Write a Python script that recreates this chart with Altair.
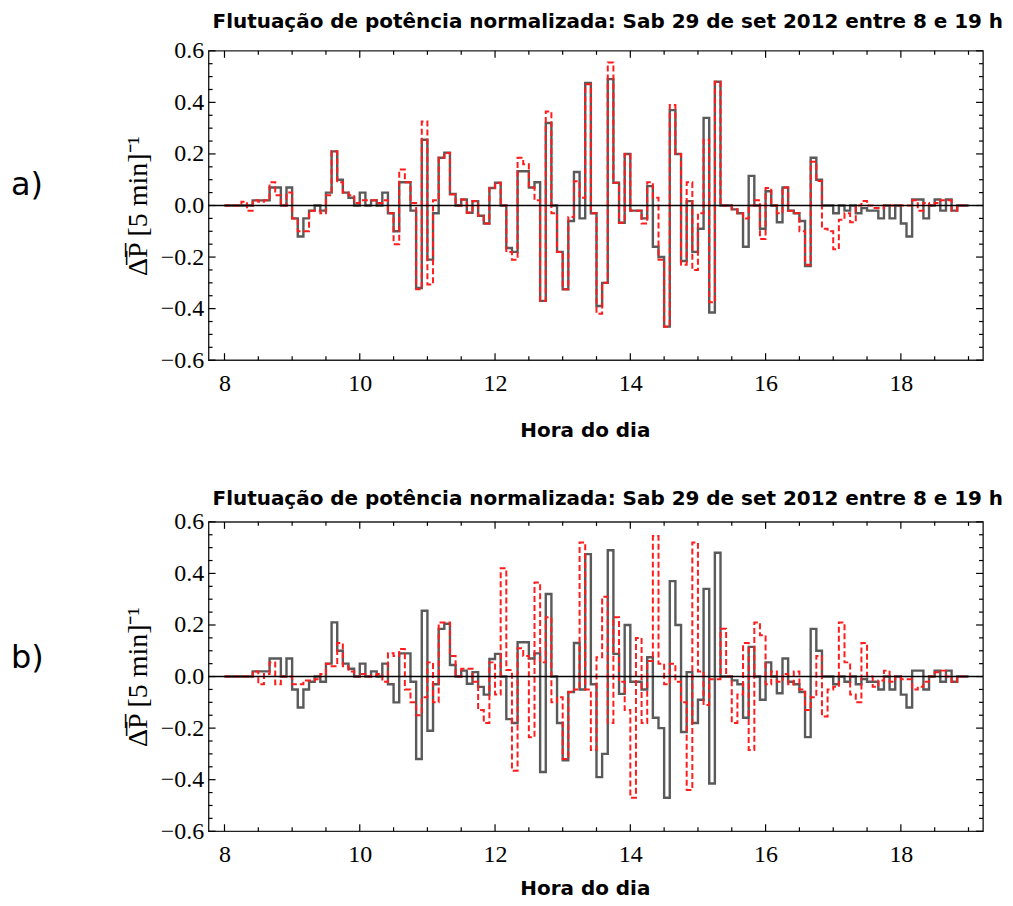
import altair as alt
import pandas as pd

# ---- data: 5-minute steps from 8:00 to 19:00 (132 steps) ----
cinza = [0, 0, 0, 0, 0, 0.02, 0.02, 0.02, 0.07, 0.07,
         0, 0.07, -0.05, -0.12, -0.05, -0.02, 0, -0.02, 0.05, 0.21,
         0.1, 0.05, 0.03, 0, 0.05, 0, 0.02, 0, 0.05, -0.03,
         -0.1, 0.09, 0.09, -0.02, -0.32, 0.255, -0.21, -0.03, 0.185, 0.205,
         0.045, 0, 0.023, -0.028, 0.017, -0.04, -0.07, 0.068, 0.088, 0,
         -0.165, -0.18, 0.133, 0.133, 0.07, 0.09, -0.37, 0.32, 0, -0.18,
         -0.325, -0.06, 0.13, -0.05, 0.475, -0.03, -0.39, -0.3, 0.49, 0.088,
         -0.067, 0.2, -0.02, -0.02, -0.05, 0.075, -0.16, -0.2, -0.47, 0.37,
         0.2, -0.215, 0.017, -0.18, -0.09, 0.34, -0.415, 0.48, 0, 0,
         -0.015, -0.03, -0.16, 0.115, 0, -0.09, 0.055, 0, -0.065, 0.07,
         -0.02, -0.03, -0.06, -0.235, 0.185, 0.1, 0, 0, -0.03, 0,
         -0.02, 0, -0.03, -0.01, -0.02, -0.02, -0.05, 0, -0.05, 0,
         -0.07, -0.12, 0.023, 0.023, -0.05, 0, 0.023, -0.02, 0.023, -0.02,
         0, 0]

vermelho_a = [0, 0, 0, 0.015, -0.02, 0.02, 0.015, 0.02, 0.09, 0.04,
              0, 0.05, -0.05, -0.1, -0.1, -0.02, -0.02, -0.03, 0.04, 0.21,
              0.09, 0.05, 0.04, 0.01, 0.02, 0.02, 0.02, 0.01, 0.02, -0.03,
              -0.15, 0.14, 0.09, 0.01, -0.325, 0.326, -0.306, 0.02, 0.185, 0.204,
              0.043, 0, 0.023, -0.028, 0.017, -0.04, -0.07, 0.068, 0.088, 0,
              -0.18, -0.21, 0.185, 0.16, 0.07, 0.02, -0.37, 0.365, -0.03, -0.18,
              -0.325, -0.045, 0.094, 0.03, 0.47, -0.03, -0.42, -0.3, 0.555, 0.088,
              -0.067, 0.2, -0.02, -0.02, -0.07, 0.09, 0.03, -0.21, -0.47, 0.39,
              0.2, -0.23, 0.09, -0.25, -0.03, 0.255, -0.375, 0.48, 0, 0,
              -0.015, -0.03, -0.05, 0.0, 0.02, -0.13, 0.068, 0, -0.03, 0.07,
              -0.02, -0.03, -0.1, -0.23, 0.17, 0.095, -0.09, -0.1, -0.17, -0.055,
              -0.03, -0.065, 0.0, 0.017, 0, -0.01, -0.01, 0, 0, 0,
              0, 0, 0.02, -0.02, 0.01, 0, 0.01, 0.02, 0.02, -0.02,
              0, 0]

vermelho_b = [0, 0, 0, 0, 0, 0.02, -0.03, 0.01, 0.055, -0.03,
              0, 0, -0.03, -0.03, -0.015, -0.015, -0.01, 0.01, 0.05, 0.04,
              0.13, 0.04, 0.02, 0, 0.01, 0, 0.005, 0.01, -0.02, 0.09,
              0.08, 0.107, -0.05, -0.1, -0.15, -0.08, 0.055, -0.1, 0.21, 0.21,
              0.08, 0, 0.03, 0.03, -0.02, -0.13, -0.18, 0.055, -0.07, 0.42,
              0.025, -0.365, 0.11, 0.08, -0.235, 0.365, 0.055, 0.23, -0.1, -0.08,
              -0.32, -0.06, -0.05, 0.52, -0.05, -0.285, 0.075, 0.31, -0.18, 0.23,
              -0.02, -0.13, -0.47, 0.15, -0.18, 0.06, 0.545, 0.05, -0.03, 0.05,
              -0.02, -0.1, -0.44, 0.52, 0.02, -0.11, -0.01, -0.01, 0.185, 0,
              -0.18, -0.07, 0.13, -0.285, 0.21, 0.16, -0.03, 0.02, -0.02, 0.01,
              -0.03, 0.02, -0.05, -0.13, -0.08, 0.08, -0.155, -0.05, -0.04, 0.21,
              0.055, -0.07, -0.1, 0.13, 0, -0.04, -0.015, 0.023, -0.02, 0,
              -0.01, -0.01, -0.05, -0.04, -0.02, 0, 0.017, 0.023, 0, -0.02,
              0, 0]

x_rotulos = [8, 10, 12, 14, 16, 18]
x_ticks_menores = [8.5, 9, 9.5, 10.5, 11, 11.5, 12.5, 13, 13.5, 14.5, 15, 15.5,
                   16.5, 17, 17.5, 18.5, 19]
y_rotulos = [-0.6, -0.4, -0.2, 0.0, 0.2, 0.4, 0.6]
y_ticks_menores = [-0.55, -0.5, -0.45, -0.35, -0.3, -0.25, -0.15, -0.1, -0.05,
                   0.05, 0.1, 0.15, 0.25, 0.3, 0.35, 0.45, 0.5, 0.55]

titulo = "Flutuação de potência normalizada: Sab 29 de set 2012 entre 8 e 19 h"
titulo_y = "\u0394\u0305P\u0305 [5 min]\u207b\u00b9"

W = 776
x_scale = alt.Scale(domain=[7.765, 19.215], nice=False, zero=False)
y_scale = alt.Scale(domain=[-0.6, 0.6], nice=False, zero=False)


def serie(vals):
    horas = [8 + i / 12 for i in range(len(vals) + 1)]
    return pd.DataFrame({"hora": horas, "valor": list(vals) + [vals[-1]]})


def painel(vermelho, rotulo, H, off_titulo, pad_titulo_x, y_letra):
    x_axis = alt.Axis(values=x_rotulos, title="Hora do dia", format="d",
                      labelFont="Liberation Serif", labelFontSize=24,
                      labelPadding=11, titleFont="DejaVu Sans",
                      titleFontWeight="bold", titleFontSize=20,
                      titlePadding=pad_titulo_x, titleX=377, titleAlign="center")
    y_axis = alt.Axis(values=y_rotulos, title=titulo_y, format=".1f",
                      labelFont="Liberation Serif", labelFontSize=24,
                      labelPadding=5, titleFont="Liberation Serif",
                      titleFontWeight="normal", titleFontSize=28, titlePadding=8)

    def ex(campo):
        return alt.X(campo, scale=x_scale, axis=x_axis)

    def ey(campo):
        return alt.Y(campo, scale=y_scale, axis=y_axis)

    cinza_l = alt.Chart(serie(cinza)).mark_line(
        interpolate="step-after", color="#5a5a5a", strokeWidth=2.4
    ).encode(x=ex("hora:Q"), y=ey("valor:Q"))
    verm_l = alt.Chart(serie(vermelho)).mark_line(
        interpolate="step-after", color="#ff1c1c", strokeWidth=2, strokeDash=[6, 3]
    ).encode(x=ex("hora:Q"), y=ey("valor:Q"))
    zero = alt.Chart(pd.DataFrame({"valor": [0.0]})).mark_rule(
        color="black", strokeWidth=1.6
    ).encode(y=ey("valor:Q"))

    camadas = [cinza_l, verm_l, zero]
    # inward frame ticks (Mathematica style)
    for vals, comp in [(x_rotulos, 7), (x_ticks_menores, 4)]:
        d = pd.DataFrame({"hora": vals})
        camadas.append(alt.Chart(d).mark_rule(color="black", strokeWidth=1.2).encode(
            x=ex("hora:Q"), y=alt.value(H), y2=alt.value(H - comp)))
        camadas.append(alt.Chart(d).mark_rule(color="black", strokeWidth=1.2).encode(
            x=ex("hora:Q"), y=alt.value(0), y2=alt.value(comp)))
    for vals, comp in [(y_rotulos, 7), (y_ticks_menores, 4)]:
        d = pd.DataFrame({"valor": vals})
        camadas.append(alt.Chart(d).mark_rule(color="black", strokeWidth=1.2).encode(
            y=ey("valor:Q"), x=alt.value(0), x2=alt.value(comp)))
        camadas.append(alt.Chart(d).mark_rule(color="black", strokeWidth=1.2).encode(
            y=ey("valor:Q"), x=alt.value(W), x2=alt.value(W - comp)))

    letra = alt.Chart(pd.DataFrame({"r": [rotulo]})).mark_text(
        font="DejaVu Sans", fontSize=32, align="left", baseline="middle", color="black"
    ).encode(text="r:N", x=alt.value(-198), y=alt.value(y_letra))
    camadas.append(letra)

    return alt.layer(*camadas).properties(
        width=W, height=H,
        title=alt.TitleParams(text=titulo, font="DejaVu Sans", fontWeight="bold",
                              fontSize=20, anchor="middle", dx=12, offset=off_titulo,
                              color="black"))


chart = alt.vconcat(painel(vermelho_a, "a)", 310, 7, 25, 134),
                    painel(vermelho_b, "b)", 310, 1, 12, 136), spacing=47).properties(
    padding={"left": 2, "top": 2, "right": 0, "bottom": 0}
).configure_axis(
    grid=False, ticks=False, domain=False, labelColor="black", titleColor="black"
).configure_view(
    stroke="#222222", strokeWidth=1.4
)

chart.save("out.html", embed_options={"renderer": "svg", "actions": False})
